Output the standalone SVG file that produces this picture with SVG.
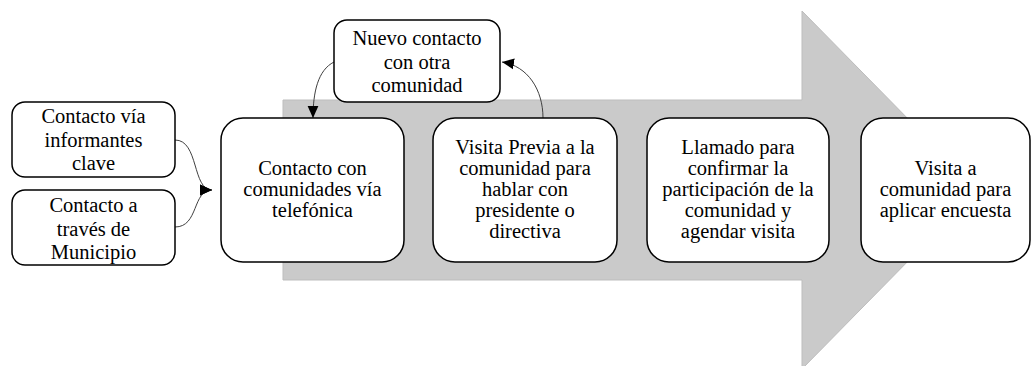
<svg xmlns="http://www.w3.org/2000/svg" width="1032" height="366" viewBox="0 0 1032 366">
<style>
.box{fill:#ffffff;stroke:#000000;stroke-width:1.5}
.t{font-size:20.5px;fill:#000000;text-anchor:middle}
.c{fill:none;stroke:#404040;stroke-width:1}
</style>
<defs>
<marker id="ah" markerUnits="userSpaceOnUse" markerWidth="12" markerHeight="12" viewBox="0 0 10 10" refX="10" refY="5" orient="auto">
<path d="M0,0.5 L10,5 L0,9.5 Z" fill="#000000"/>
</marker>
</defs>
<g id="big-arrow">
<polygon points="283,100 802,100 802,11 978,190 802,369 802,280 283,280" fill="#cacaca" stroke="#bdbdbd" stroke-width="1"/>
</g>
<g id="connectors">
<path class="c" d="M175,140 C199,140 192,190 212,190" marker-end="url(#ah)"/>
<path class="c" d="M175,227 C199,227 192,190 212,190" marker-end="url(#ah)"/>
<path class="c" d="M334,62 C318,70 313,92 313,118" marker-end="url(#ah)"/>
<path class="c" d="M543,118 C543,90 528,66 502,62" marker-end="url(#ah)"/>
</g>
<g font-family="Liberation Serif, Times New Roman, Tinos, Noto Serif, DejaVu Serif, serif">
<g id="n-informantes">
<rect class="box" x="12" y="102" width="163" height="75" rx="13"/>
<text class="t" x="93.5" y="123">Contacto vía</text>
<text class="t" x="93.5" y="146.5">informantes</text>
<text class="t" x="93.5" y="170">clave</text>
</g>
<g id="n-municipio">
<rect class="box" x="12" y="190" width="163" height="75" rx="13"/>
<text class="t" x="93.5" y="212">Contacto a</text>
<text class="t" x="93.5" y="235.5">través de</text>
<text class="t" x="93.5" y="259">Municipio</text>
</g>
<g id="n-nuevo">
<rect class="box" x="334" y="20" width="166" height="82" rx="13"/>
<text class="t" x="417" y="45">Nuevo contacto</text>
<text class="t" x="417" y="68.5">con otra</text>
<text class="t" x="417" y="92">comunidad</text>
</g>
<g id="n-telefonica">
<rect class="box" x="221" y="118" width="183" height="144" rx="22"/>
<text class="t" x="312.5" y="175">Contacto con</text>
<text class="t" x="312.5" y="196">comunidades vía</text>
<text class="t" x="312.5" y="217">telefónica</text>
</g>
<g id="n-visita-previa">
<rect class="box" x="433" y="118" width="184" height="144" rx="22"/>
<text class="t" x="525" y="154">Visita Previa a la</text>
<text class="t" x="525" y="175">comunidad para</text>
<text class="t" x="525" y="196">hablar con</text>
<text class="t" x="525" y="217">presidente o</text>
<text class="t" x="525" y="238">directiva</text>
</g>
<g id="n-llamado">
<rect class="box" x="647" y="118" width="182" height="144" rx="22"/>
<text class="t" x="738" y="154">Llamado para</text>
<text class="t" x="738" y="175">confirmar la</text>
<text class="t" x="738" y="196">participación de la</text>
<text class="t" x="738" y="217">comunidad y</text>
<text class="t" x="738" y="238">agendar visita</text>
</g>
<g id="n-encuesta">
<rect class="box" x="861" y="118" width="169" height="144" rx="22"/>
<text class="t" x="945.5" y="175">Visita a</text>
<text class="t" x="945.5" y="196">comunidad para</text>
<text class="t" x="945.5" y="217">aplicar encuesta</text>
</g>
</g>
</svg>
